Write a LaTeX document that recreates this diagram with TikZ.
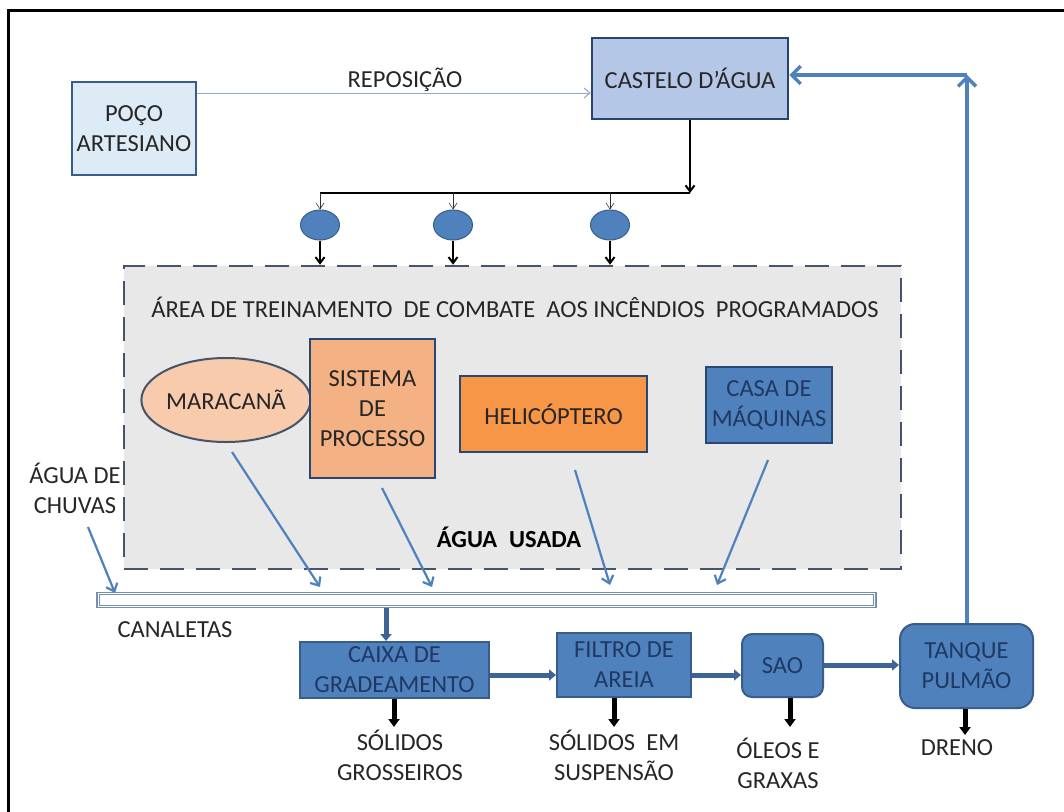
\documentclass[tikz,border=0pt]{standalone}
\usepackage{fontspec}
\setmainfont{Carlito}
\usetikzlibrary{arrows.meta,shapes.geometric}
\definecolor{frameblue}{HTML}{385D8A}
\definecolor{midblue}{HTML}{4F81BD}
\definecolor{navy}{HTML}{1F3864}
\definecolor{lightcyan}{HTML}{DDEBF7}
\definecolor{castblue}{HTML}{B4C7E7}
\definecolor{peach}{HTML}{F8CBAD}
\definecolor{salmon}{HTML}{F4B183}
\definecolor{orangeb}{HTML}{F79646}
\definecolor{areagray}{HTML}{E8E8E8}
\definecolor{dashc}{HTML}{44546A}
\definecolor{txt}{HTML}{262626}
\definecolor{thinline}{HTML}{8EA9C8}
\tikzset{
  x=1pt,y=-1pt,
  every node/.style={font=\fontsize{24.5}{30}\selectfont, text=txt, align=center, inner sep=0pt},
  lbox/.style={draw=frameblue, line width=2.5pt, rectangle},
  bbox/.style={draw=frameblue, line width=2pt, fill=midblue, text=navy, rectangle},
  valve/.style={draw=frameblue, line width=1pt, fill=midblue, ellipse, minimum width=39, minimum height=30},
  blk/.style={draw=black, line width=2pt, -{Straight Barb[length=6pt,width=9pt]}},
  thinarr/.style={draw=black!80, line width=0.6pt, -{Straight Barb[length=6pt,width=8pt]}},
  bluearr/.style={draw=midblue, line width=2.2pt, -{Straight Barb[length=7pt,width=12pt]}},
  flow/.style={draw=frameblue!80!midblue, line width=5pt, -{Triangle[length=7pt,width=11pt]}},
  outarr/.style={draw=black, line width=5pt, -{Triangle[length=8pt,width=11pt]}},
  retarr/.style={draw=midblue, line width=3.5pt, -{Straight Barb[length=9pt,width=18pt]}},
}
\begin{document}
\begin{tikzpicture}
\useasboundingbox (0,0) rectangle (1064,811);
\fill[white] (0,0) rectangle (1064,811);
\draw[black, line width=3pt] (8,10) rectangle (1090,840);

% area
\node[draw=dashc, line width=2.5pt, dash pattern=on 24pt off 12pt, fill=areagray, minimum width=777, minimum height=303] (area) at (512.5,417.5) {};
\node (areat) at (515,307) {ÁREA DE TREINAMENTO\ \ DE COMBATE\ \ AOS INCÊNDIOS\ \ PROGRAMADOS};

% top
\node[lbox, fill=lightcyan, minimum width=124, minimum height=93] (poco) at (134,128.5) {POÇO\\ARTESIANO};
\node[lbox, draw=navy!70!frameblue, fill=castblue, minimum width=196, minimum height=81] (castelo) at (690,78.5) {CASTELO D’ÁGUA};
\node (repo) at (405,80) {REPOSIÇÃO};
\draw[draw=thinline, line width=1pt, -{Straight Barb[length=6pt,width=10pt]}] (poco.east |- 0,93) -- (castelo.west |- 0,93);

\coordinate (j) at (690,193);
\coordinate (jl) at (320,193);
\coordinate (j2) at (453,193);
\coordinate (j3) at (610,193);
\draw[blk] (castelo.south) -- (j);
\draw[black, line width=2pt] (j) -- (jl);

\node[valve] (e1) at (320,225) {};
\node[valve] (e2) at (453,225) {};
\node[valve] (e3) at (610,225) {};
\draw[thinarr] (jl) -- (e1.north);
\draw[thinarr] (j2) -- (e2.north);
\draw[thinarr] (j3) -- (e3.north);
\draw[blk] (e1.south) -- (e1.south |- area.north);
\draw[blk] (e2.south) -- (e2.south |- area.north);
\draw[blk] (e3.south) -- (e3.south |- area.north);

% inner elements
\node[ellipse, draw=dashc, line width=2pt, fill=peach, minimum width=152, minimum height=84] (mara) at (226,400) {MARACANÃ};
\node[lbox, draw=navy!60!frameblue, fill=salmon, minimum width=125, minimum height=139] (sist) at (372.5,408.5) {SISTEMA\\DE\\PROCESSO};
\node[lbox, draw=navy!60!frameblue, fill=orangeb, minimum width=187, minimum height=76] (heli) at (553.5,414) {HELICÓPTERO};
\node[lbox, draw=navy!60!frameblue, fill=midblue, text=navy, minimum width=126, minimum height=76] (casa) at (769,405) {CASA DE\\MÁQUINAS};
\node[font=\bfseries\fontsize{24.5}{30}\selectfont, text=black] (usada) at (509,537) {ÁGUA\hspace{12pt}USADA};
\node[fill=white, inner sep=1pt] (chuva) at (75,488) {ÁGUA DE\\CHUVAS};

% canaletas
\node[draw=frameblue!70!white, fill=white, line width=1.2pt, minimum width=779, minimum height=15] (canal) at (486.5,600) {};
\draw[frameblue!70!white, line width=1pt] ([shift={(3,-3)}]canal.south west) rectangle ([shift={(-3,3)}]canal.north east);
\node (canalt) at (175,630) {CANALETAS};

\coordinate (c0s) at (88,527);   \coordinate (c0e) at (115,593);
\coordinate (c1s) at (232,452);  \coordinate (c1e) at (320,587);
\coordinate (c2s) at (382,488);  \coordinate (c2e) at (432,587);
\coordinate (c3s) at (575,470);  \coordinate (c3e) at (610,585);
\coordinate (c4s) at (768,460);  \coordinate (c4e) at (717,585);
\draw[bluearr] (c0s) -- (c0e);
\draw[bluearr] (c1s) -- (c1e);
\draw[bluearr] (c2s) -- (c2e);
\draw[bluearr] (c3s) -- (c3e);
\draw[bluearr] (c4s) -- (c4e);

% treatment line
\node[bbox, minimum width=189, minimum height=56] (caixa) at (394.5,670) {CAIXA DE\\GRADEAMENTO};
\node[bbox, minimum width=134, minimum height=64] (filtro) at (624,665) {FILTRO DE\\AREIA};
\node[bbox, rounded corners=10pt, minimum width=81, minimum height=63] (sao) at (782.5,665.5) {SAO};
\node[bbox, rounded corners=15pt, minimum width=133, minimum height=84] (tanque) at (966.5,666) {TANQUE\\PULMÃO};

\draw[flow] (canal.south -| 386,0) -- (caixa.north -| 386,0);
\draw[flow] (caixa.east |- 0,675) -- (filtro.west |- 0,675);
\draw[flow] (filtro.east |- 0,675) -- (sao.west |- 0,675);
\draw[flow] (sao.east |- 0,665) -- (tanque.west |- 0,665);

\coordinate (rt) at (967,75);
\draw[retarr] (tanque.north -| rt) -- (rt);
\draw[retarr] (rt) -- (castelo.east |- rt);

% outputs
\draw[outarr] (caixa.south -| 394,0) -- (394,727);
\draw[outarr] (filtro.south -| 614,0) -- (614,727);
\draw[outarr] (sao.south -| 790,0) -- (790,727);
\draw[outarr] (tanque.south -| 965,0) -- (965,735);
\node (o1) at (400,755) {SÓLIDOS\\GROSSEIROS};
\node (o2) at (614,755) {SÓLIDOS\ \ EM\\SUSPENSÃO};
\node (o3) at (778,763) {ÓLEOS E\\GRAXAS};
\node (o4) at (957,748) {DRENO};
\end{tikzpicture}
\end{document}
